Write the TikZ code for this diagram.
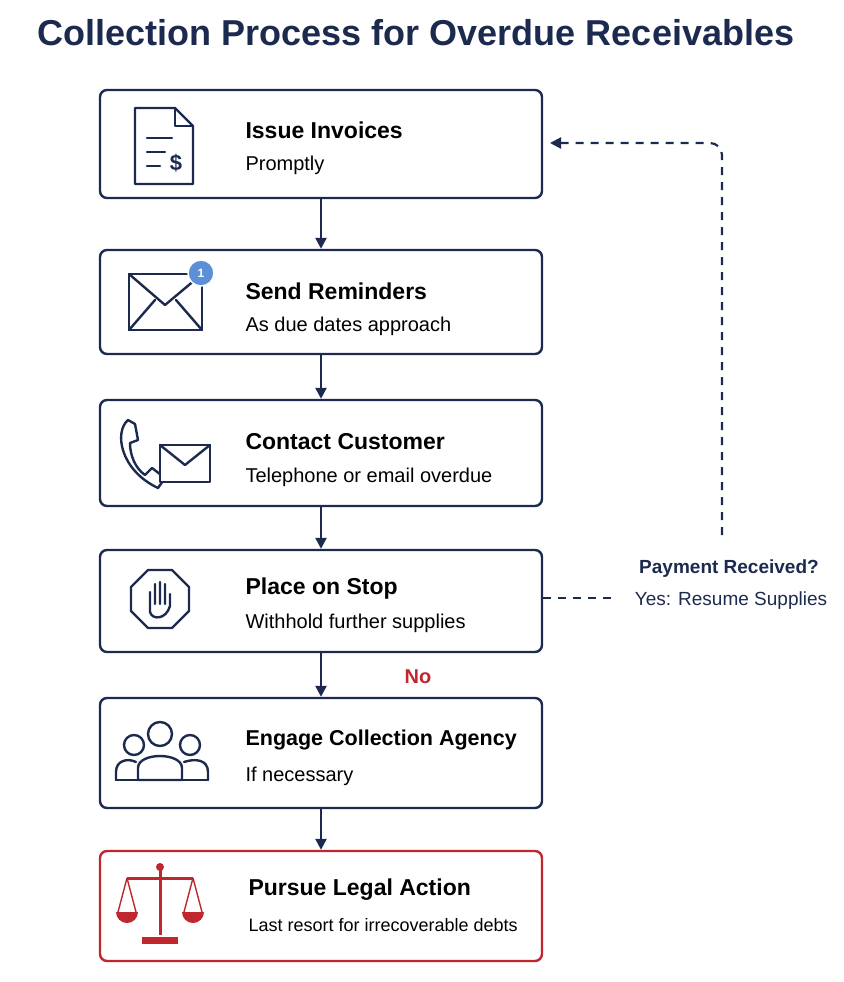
\documentclass[tikz,border=0pt]{standalone}
\usepackage{fontspec}
\setmainfont{Liberation Sans}
\usetikzlibrary{arrows.meta,positioning}
\definecolor{navy}{HTML}{1B2A4E}
\definecolor{legal}{HTML}{C0262D}
\definecolor{badge}{HTML}{5B8FD6}
\tikzset{
  stage/.style={draw=navy, line width=2.4pt, rounded corners=7pt, minimum width=442pt, minimum height=108pt, fill=white},
  stagered/.style={stage, draw=legal},
  head/.style={font=\bfseries\fontsize{23}{28}\selectfont, text=black, anchor=west},
  sub/.style={font=\fontsize{20}{24}\selectfont, text=black, anchor=west},
  flow/.style={-{Triangle[length=11pt,width=11pt]}, draw=navy, line width=2.4pt},
  loop/.style={dashed, dash pattern=on 8pt off 7pt, draw=navy, line width=2.2pt},
  icon/.style={draw=navy, line width=2.4pt, line join=round, line cap=round}
}
\begin{document}
\begin{tikzpicture}[x=1pt,y=-1pt]
\useasboundingbox (0,0) rectangle (843,982);
\node[font=\bfseries\fontsize{36}{40}\selectfont, text=navy] (title) at (416,33) {Collection Process for Overdue Receivables};

% boxes
\node[stage] (inv) at (321,144) {};
\node[stage, minimum height=104pt] (rem) at (321,302) {};
\node[stage, minimum height=106pt] (con) at (321,453) {};
\node[stage, minimum height=102pt] (stop) at (321,601) {};
\node[stage, minimum height=110pt] (agc) at (321,753) {};
\node[stagered, minimum height=110pt] (law) at (321,906) {};

% texts
\node[head] at (242,130) {Issue Invoices};
\node[sub] at (242,165) {Promptly};
\node[head] at (242,291) {Send Reminders};
\node[sub] at (242,326) {As due dates approach};
\node[head] at (242,442) {Contact Customer};
\node[sub] at (242,477) {Telephone or email overdue};
\node[head] at (242,589) {Place on Stop};
\node[sub] at (242,623) {Withhold further supplies};
\node[head, font=\bfseries\fontsize{21.5}{26}\selectfont] at (242,740) {Engage Collection Agency};
\node[sub] at (242,776) {If necessary};
\node[head] at (245,890) {Pursue Legal Action};
\node[sub, font=\fontsize{18}{22}\selectfont] at (245,925) {Last resort for irrecoverable debts};

% arrows
\draw[flow] (inv) -- (rem);
\draw[flow] (rem) -- (con);
\draw[flow] (con) -- (stop);
\draw[flow] (stop) -- (agc);
\draw[flow] (agc) -- (law);
\node[font=\bfseries\fontsize{20}{24}\selectfont, text=legal] (no) at (418,677) {No};

% feedback
\node[font=\bfseries\fontsize{19}{23}\selectfont, text=navy] (ask) at (729,569) {Payment Received?};
\node[font=\fontsize{19}{23}\selectfont, text=navy] (yes) at (731,601) {Yes: Resume Supplies};
\coordinate (gap) at (615,598);
\coordinate (top) at (722,535);
\coordinate (turn) at (722,143);
\draw[loop] (stop.east |- gap) -- (gap);
\draw[loop, rounded corners=12pt, -{Triangle[length=11pt,width=11pt]}] (top) -- (turn) -- (550,143);

% icons
\draw[icon] (135,108) -- (175,108) -- (193,126) -- (193,184) -- (135,184) -- cycle;
\draw[icon] (175,108) -- (175,126) -- (193,126);
\draw[icon] (147,138) -- (172,138) (147,152) -- (165,152) (147,166) -- (160,166);
\node[text=navy, font=\bfseries\fontsize{22}{24}\selectfont] at (176,163) {\$};

\draw[icon] (129,274) rectangle (202,330);
\draw[icon] (129,274) -- (165,305) -- (202,274);
\draw[icon] (129,330) -- (155,300) (202,330) -- (176,300);
\node[circle, fill=badge, draw=white, line width=1.5pt, text=white, font=\bfseries\fontsize{12}{14}\selectfont, minimum size=26pt, inner sep=0pt] (bdg) at (201,273) {1};

\draw[icon] (128,420) .. controls (114,432) and (120,470) .. (158,488) -- (165,478) -- (152,468) -- (145,475) .. controls (135,468) and (130,455) .. (130,443) -- (138,440) -- (135,424) -- cycle;
\draw[icon, fill=white] (160,445) rectangle (210,482);
\draw[icon] (160,445) -- (185,465) -- (210,445);

\draw[icon] (148,570) -- (172,570) -- (189,587) -- (189,611) -- (172,628) -- (148,628) -- (131,611) -- (131,587) -- cycle;
\draw[icon] (150,612) -- (150,592) (155,604) -- (155,584) (160,604) -- (160,582) (165,604) -- (165,584) (170,606) -- (170,594) (150,612) .. controls (152,620) and (166,620) .. (170,606);

\draw[icon] (160,734) circle (12pt);
\draw[icon] (134,745) circle (10pt);
\draw[icon] (190,745) circle (10pt);
\draw[icon] (138,780) -- (138,768) .. controls (138,752) and (182,752) .. (182,768) -- (182,780) -- cycle;
\draw[icon] (116,780) -- (116,772) .. controls (116,760) and (128,758) .. (136,762);
\draw[icon] (208,780) -- (208,772) .. controls (208,760) and (196,758) .. (184,762);
\draw[icon] (116,780) -- (138,780) (182,780) -- (208,780);

\fill[legal] (160,867) circle (4pt);
\draw[line width=3pt, legal] (160,870) -- (160,935) (127,878) -- (193,878);
\fill[legal] (142,937) rectangle (178,944);
\draw[line width=1.4pt, legal] (127,878) -- (118,912) (127,878) -- (136,912) (193,878) -- (184,912) (193,878) -- (202,912);
\fill[legal] (116,912) arc (180:360:11pt) -- cycle;
\fill[legal] (182,912) arc (180:360:11pt) -- cycle;
\end{tikzpicture}
\end{document}
